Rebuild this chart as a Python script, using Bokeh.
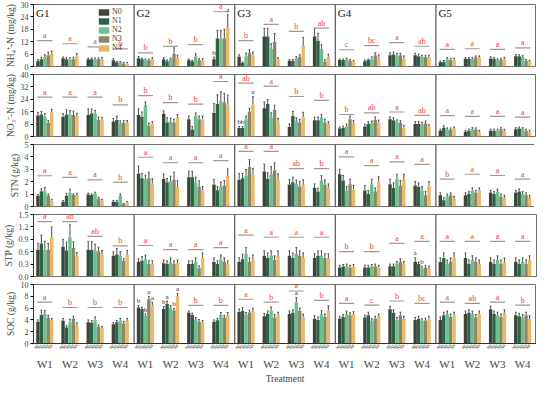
from bokeh.plotting import figure
from bokeh.models import (FixedTicker, Span, Legend, LegendItem, LinearAxis,
                          Range1d, CustomJSTickFormatter)
from bokeh.layouts import column
from bokeh.embed import file_html
from bokeh.resources import INLINE
from bokeh.core.properties import value

groups = ["G1", "G2", "G3", "G4", "G5"]
treatments = ["W1", "W2", "W3", "W4"]
levels = ["N0", "N1", "N2", "N3", "N4"]
colors = ["#3c4638", "#2f6049", "#6cc08b", "#8a8767", "#e8b96a"]

# ---- NH4+-N (mg/kg) : [G][W][N]
nh4_mean = [
    [[2.5, 3.5, 4.5, 5.5, 6.0], [4.0, 3.5, 3.5, 3.5, 5.0], [3.5, 3.5, 3.5, 3.5, 3.5], [3.0, 2.0, 2.0, 1.5, 1.5]],
    [[4.0, 3.5, 3.0, 3.0, 3.5], [3.5, 2.5, 3.5, 6.0, 4.5], [3.0, 2.5, 5.0, 3.0, 3.0], [3.5, 13.5, 13.5, 13.5, 19.0]],
    [[4.7, 1.7, 5.0, 6.6, 5.5], [14.5, 14.5, 8.5, 12.0, 3.5], [2.8, 2.8, 4.0, 4.7, 10.0], [14.5, 12.5, 8.5, 2.3, 4.7]],
    [[3.1, 3.1, 3.5, 2.8, 2.4], [2.6, 3.1, 3.8, 5.4, 4.6], [5.4, 5.8, 5.3, 5.4, 3.9], [5.4, 5.0, 4.6, 4.6, 4.6]],
    [[2.0, 2.3, 3.5, 3.2, 3.2], [3.7, 3.7, 3.6, 4.3, 4.3], [3.9, 3.7, 3.1, 3.4, 3.7], [4.9, 4.9, 4.6, 2.8, 2.4]],
]
nh4_err = [
    [[0.8, 1.0, 1.2, 1.5, 1.5], [0.6, 0.8, 0.8, 1.0, 1.2], [0.6, 0.6, 0.5, 0.6, 0.8], [0.8, 0.4, 0.4, 0.4, 0.5]],
    [[0.8, 0.6, 0.6, 0.6, 0.8], [0.8, 0.6, 0.6, 3.0, 1.0], [0.6, 0.5, 1.2, 0.8, 0.8], [1.0, 4.0, 4.0, 4.5, 6.0]],
    [[1.0, 0.5, 1.5, 1.5, 1.5], [4.0, 4.0, 2.5, 4.0, 0.8], [0.5, 0.6, 0.8, 1.0, 4.0], [4.0, 3.5, 2.0, 1.0, 1.2]],
    [[0.5, 0.5, 0.5, 0.5, 0.5], [0.5, 0.5, 0.8, 1.2, 1.0], [1.2, 1.2, 1.0, 1.0, 1.2], [1.0, 1.0, 0.8, 0.8, 0.8]],
    [[0.6, 0.6, 0.8, 0.8, 0.8], [0.6, 0.6, 0.6, 0.8, 0.8], [0.8, 0.6, 0.6, 0.6, 0.8], [0.8, 0.8, 0.8, 0.6, 0.6]],
]
nh4_letters = [["a", "a", "a", "b"], ["b", "b", "b", "a"], ["b", "a", "b", "ab"], ["c", "bc", "a", "ab"], ["a", "a", "a", "a"]]
nh4_letter_y = [[12.5, 11, 9.5, 8.5], [6.6, 9.7, 10.6, 26.5], [12.5, 20.4, 17, 18.6], [8.1, 10.1, 11.6, 9.8], [8.3, 8.6, 8.3, 9.0]]
nh4_ticks = [0, 6, 12, 18, 24, 30]

# ---- NO3--N (mg/kg)
no3_mean = [
    [[13.6, 14.2, 12.8, 8.8, 15.5], [12.8, 14.2, 14.2, 13.8, 13.0], [13.8, 14.8, 14.8, 10.6, 10.8], [9.6, 10.6, 8.6, 8.8, 8.8]],
    [[13.8, 12.8, 20.3, 7.1, 8.1], [14.6, 9.1, 9.7, 9.1, 12.6], [11.2, 4.5, 13.2, 11.2, 11.2], [15.2, 20.9, 22.9, 21.9, 20.7]],
    [[5.5, 5.5, 11.2, 16.2, 20.7], [18.3, 20.9, 12.2, 17.2, 9.7], [6.1, 13.2, 10.1, 9.1, 12.6], [10.5, 10.5, 12.2, 9.1, 8.1]],
    [[5.1, 5.7, 6.5, 11.2, 8.7], [6.5, 8.1, 8.5, 10.6, 9.1], [11.2, 10.5, 9.7, 8.7, 5.7], [8.1, 8.1, 7.7, 8.5, 6.5]],
    [[3.7, 5.7, 4.5, 4.5, 5.1], [3.0, 3.7, 4.7, 4.5, 3.0], [3.7, 3.7, 3.7, 4.7, 3.7], [4.7, 5.1, 4.7, 3.7, 3.0]],
]
no3_err = [
    [[2.0, 2.0, 2.0, 1.5, 2.0], [2.0, 3.0, 2.5, 2.5, 2.0], [4.0, 3.0, 2.0, 2.0, 1.5], [2.0, 2.5, 1.5, 1.5, 1.5]],
    [[4.0, 3.0, 2.0, 1.5, 1.5], [2.0, 3.0, 2.0, 2.0, 1.5], [2.0, 2.0, 2.0, 2.0, 2.0], [6.0, 6.0, 6.0, 6.0, 6.0]],
    [[1.0, 1.0, 2.0, 2.0, 5.0], [4.0, 3.0, 3.0, 3.0, 2.0], [2.0, 3.0, 2.0, 2.0, 3.0], [2.0, 2.0, 2.0, 2.0, 1.5]],
    [[1.0, 1.0, 1.5, 2.0, 1.5], [1.5, 1.5, 1.5, 2.0, 1.5], [1.5, 1.5, 1.0, 1.5, 1.5], [1.5, 1.5, 1.5, 1.5, 1.0]],
    [[1.0, 1.2, 1.0, 1.0, 1.0], [1.0, 1.0, 1.0, 1.0, 1.0], [1.0, 1.0, 1.0, 1.0, 1.0], [1.0, 1.0, 1.0, 1.0, 1.0]],
]
no3_letters = [["a", "a", "a", "b"], ["b", "b", "b", "a"], ["ab", "a", "b", "b"], ["b", "ab", "a", "ab"], ["a", "a", "a", "a"]]
no3_letter_y = [[25.4, 25.4, 25.4, 20.4], [26.4, 21.9, 20.9, 35.5], [34.5, 32.5, 25.8, 23.3], [14.2, 15.2, 15.8, 13.6], [13.5, 13.0, 13.0, 12.5]]
no3_ticks = [0, 8, 16, 24, 32, 40]

# ---- STN (g/kg)
stn_mean = [
    [[0.86, 1.23, 1.23, 0.86, 0.47], [0.39, 0.86, 1.1, 0.92, 0.92], [0.97, 0.92, 1.05, 0.65, 0.47], [0.39, 0.39, 0.86, 0.21, 0.31]],
    [[2.67, 2.27, 2.22, 2.27, 1.83], [2.22, 1.96, 2.04, 2.17, 1.57], [2.35, 2.35, 1.96, 1.57, 1.31], [1.78, 1.31, 1.57, 1.7, 2.43]],
    [[2.14, 2.27, 2.48, 3.19, 2.56], [2.82, 2.22, 2.61, 2.93, 2.14], [1.78, 1.96, 1.83, 1.62, 1.75], [1.52, 1.18, 2.09, 1.75, 1.52]],
    [[2.6, 2.1, 1.3, 1.8, 1.4], [1.3, 1.0, 1.8, 1.2, 2.0], [1.8, 1.5, 2.2, 1.7, 2.2], [1.7, 1.6, 1.3, 0.9, 1.7]],
    [[0.9, 0.5, 0.8, 0.9, 0.6], [0.9, 1.0, 1.3, 1.1, 1.3], [1.1, 1.0, 1.2, 0.8, 0.7], [1.1, 1.2, 1.0, 0.9, 0.7]],
]
stn_err = [
    [[0.1, 0.2, 0.3, 0.15, 0.1], [0.1, 0.2, 0.3, 0.1, 0.15], [0.1, 0.1, 0.1, 0.1, 0.1], [0.1, 0.1, 0.15, 0.05, 0.08]],
    [[0.6, 0.4, 0.3, 0.5, 0.4], [0.4, 0.3, 0.4, 0.6, 0.5], [0.5, 0.5, 0.4, 0.5, 0.3], [0.4, 0.3, 0.4, 0.4, 0.6]],
    [[0.5, 0.4, 0.5, 0.6, 0.5], [0.6, 0.5, 0.6, 0.6, 0.5], [0.4, 0.4, 0.3, 0.4, 0.4], [0.3, 0.3, 0.4, 0.4, 0.3]],
    [[0.4, 0.4, 0.3, 0.4, 0.3], [0.4, 0.3, 0.4, 0.3, 0.4], [0.4, 0.4, 0.4, 0.4, 0.4], [0.3, 0.3, 0.3, 0.3, 0.3]],
    [[0.2, 0.2, 0.2, 0.2, 0.2], [0.2, 0.2, 0.2, 0.2, 0.2], [0.2, 0.2, 0.2, 0.2, 0.2], [0.2, 0.2, 0.2, 0.2, 0.2]],
]
stn_letters = [["a", "a", "a", "b"], ["a", "a", "a", "a"], ["a", "a", "ab", "b"], ["a", "a", "a", "a"], ["b", "a", "a", "a"]]
stn_letter_y = [[2.48, 2.35, 2.14, 1.96], [3.97, 3.53, 3.53, 3.7], [4.45, 4.45, 3.06, 3.06], [4.0, 3.3, 3.6, 3.4], [2.2, 2.6, 2.5, 2.2]]
stn_ticks = [0, 1, 2, 3, 4, 5]

# ---- STP (g/kg)
stp_mean = [
    [[0.65, 0.8, 0.65, 0.65, 0.95], [0.72, 0.63, 0.95, 0.69, 0.5], [0.65, 0.65, 0.63, 0.61, 0.53], [0.5, 0.53, 0.5, 0.38, 0.53]],
    [[0.35, 0.38, 0.42, 0.3, 0.3], [0.32, 0.3, 0.35, 0.3, 0.32], [0.3, 0.3, 0.35, 0.2, 0.45], [0.35, 0.3, 0.42, 0.35, 0.3]],
    [[0.35, 0.42, 0.55, 0.35, 0.4], [0.5, 0.45, 0.5, 0.4, 0.5], [0.5, 0.45, 0.55, 0.5, 0.45], [0.45, 0.5, 0.5, 0.45, 0.45]],
    [[0.22, 0.24, 0.25, 0.22, 0.24], [0.22, 0.22, 0.24, 0.25, 0.22], [0.25, 0.25, 0.3, 0.35, 0.3], [0.35, 0.3, 0.2, 0.22, 0.2]],
    [[0.35, 0.45, 0.3, 0.35, 0.45], [0.45, 0.3, 0.4, 0.35, 0.3], [0.35, 0.3, 0.4, 0.3, 0.35], [0.35, 0.3, 0.35, 0.3, 0.4]],
]
stp_err = [
    [[0.15, 0.2, 0.2, 0.15, 0.25], [0.18, 0.2, 0.3, 0.15, 0.08], [0.2, 0.2, 0.15, 0.1, 0.1], [0.1, 0.15, 0.1, 0.05, 0.1]],
    [[0.08, 0.1, 0.1, 0.08, 0.08], [0.08, 0.08, 0.1, 0.08, 0.08], [0.08, 0.08, 0.1, 0.06, 0.12], [0.1, 0.08, 0.1, 0.1, 0.08]],
    [[0.1, 0.12, 0.15, 0.1, 0.12], [0.12, 0.12, 0.12, 0.1, 0.12], [0.12, 0.12, 0.15, 0.12, 0.12], [0.1, 0.12, 0.12, 0.1, 0.1]],
    [[0.05, 0.05, 0.05, 0.05, 0.05], [0.05, 0.05, 0.05, 0.05, 0.05], [0.05, 0.05, 0.06, 0.08, 0.06], [0.1, 0.05, 0.05, 0.05, 0.05]],
    [[0.1, 0.12, 0.1, 0.1, 0.12], [0.12, 0.1, 0.1, 0.1, 0.1], [0.1, 0.1, 0.1, 0.1, 0.1], [0.1, 0.1, 0.1, 0.1, 0.1]],
]
stp_letters = [["a", "ab", "ab", "b"], ["a", "a", "a", "a"], ["a", "a", "a", "a"], ["b", "b", "a", "a"], ["a", "a", "a", "a"]]
stp_letter_y = [[1.33, 1.33, 0.97, 0.74], [0.75, 0.65, 0.65, 0.7], [1.0, 0.95, 0.95, 0.95], [0.6, 0.6, 0.8, 0.85], [0.85, 0.85, 0.85, 0.85]]
stp_ticks = [0.0, 0.3, 0.6, 0.9, 1.2, 1.5]

# ---- SOC (g/kg)
soc_mean = [
    [[3.7, 4.85, 5.0, 4.35, 3.95], [3.85, 2.7, 3.6, 4.25, 3.2], [3.6, 3.5, 4.0, 2.85, 2.6], [3.25, 3.6, 3.85, 3.45, 3.85]],
    [[6.1, 5.85, 4.7, 7.5, 6.5], [5.85, 6.7, 6.1, 5.6, 8.0], [5.2, 4.85, 4.1, 3.75, 3.6], [3.7, 3.95, 4.85, 4.35, 4.75]],
    [[5.35, 5.5, 4.85, 5.25, 5.45], [4.6, 5.0, 5.6, 4.4, 4.8], [5.0, 5.2, 7.0, 5.5, 4.5], [4.2, 4.0, 5.0, 4.5, 5.6]],
    [[4.2, 4.5, 5.0, 4.8, 5.0], [4.4, 4.8, 3.8, 4.2, 4.6], [5.8, 5.2, 4.0, 4.8, 4.2], [4.0, 4.2, 3.8, 3.9, 4.2]],
    [[4.0, 4.8, 5.0, 4.5, 4.8], [5.0, 5.2, 5.0, 4.4, 5.0], [5.8, 5.0, 4.8, 4.5, 5.2], [4.8, 4.6, 4.4, 4.8, 4.2]],
]
soc_err = [
    [[0.3, 0.8, 0.6, 0.4, 0.3], [0.4, 0.3, 0.5, 0.4, 0.3], [0.4, 0.4, 0.5, 0.3, 0.3], [0.3, 0.3, 0.4, 0.3, 0.4]],
    [[0.3, 0.3, 0.3, 0.5, 0.5], [0.4, 0.5, 0.3, 0.3, 0.5], [0.3, 0.3, 0.3, 0.3, 0.3], [0.3, 0.3, 0.4, 0.4, 0.5]],
    [[0.5, 0.6, 0.4, 0.4, 0.5], [0.5, 0.5, 0.6, 0.5, 0.5], [0.5, 0.5, 0.8, 0.5, 0.5], [0.5, 0.5, 0.6, 0.5, 0.8]],
    [[0.4, 0.4, 0.5, 0.4, 0.4], [0.4, 0.5, 0.4, 0.4, 0.4], [0.5, 0.5, 0.4, 0.5, 0.4], [0.4, 0.4, 0.4, 0.4, 0.4]],
    [[0.5, 0.5, 0.5, 0.5, 0.5], [0.5, 0.5, 0.5, 0.5, 0.5], [0.5, 0.5, 0.5, 0.5, 0.5], [0.5, 0.5, 0.5, 0.5, 0.5]],
]
soc_letters = [["a", "b", "b", "b"], ["", "", "b", "b"], ["a", "b", "a", "b"], ["a", "c", "b", "bc"], ["a", "ab", "a", "b"]]
soc_letter_y = [[7.0, 6.1, 6.1, 6.1], [0, 0, 6.45, 6.45], [7.5, 7.0, 8.9, 7.3], [6.8, 6.5, 7.2, 6.8], [7.0, 6.8, 7.0, 6.5]]
soc_ticks = [0, 2, 4, 6, 8, 10]

# black per-bar letters: (row, group, treatment, level, text)
bar_letters = [
    (0, 1, 3, 0, "b"), (0, 1, 3, 4, "a"),
    (1, 2, 0, 0, "b"), (1, 2, 0, 1, "b"), (1, 2, 0, 4, "a"),
    (3, 3, 3, 0, "a"), (3, 3, 3, 2, "b"),
    (4, 1, 0, 0, "b"), (4, 1, 0, 2, "b"), (4, 1, 0, 3, "a"), (4, 1, 0, 4, "a"),
    (4, 1, 1, 0, "b"), (4, 1, 1, 1, "a"), (4, 1, 1, 3, "b"), (4, 1, 1, 4, "a"),
    (4, 2, 2, 2, "a"),
]

row_labels = ["NH\u2084\u207a-N (mg/kg)", "NO\u2083\u207b-N (mg/kg)", "STN (g/kg)", "STP (g/kg)", "SOC (g/kg)"]

SERIF = "Liberation Serif"
rows = [
    (nh4_mean, nh4_err, nh4_letters, nh4_letter_y, nh4_ticks),
    (no3_mean, no3_err, no3_letters, no3_letter_y, no3_ticks),
    (stn_mean, stn_err, stn_letters, stn_letter_y, stn_ticks),
    (stp_mean, stp_err, stp_letters, stp_letter_y, stp_ticks),
    (soc_mean, soc_err, soc_letters, soc_letter_y, soc_ticks),
]

BW = 0.135
FRAME_W = 503


def bx(g, w, n):
    return g * 4 + w + 0.45 + (n - 2) * 0.137


figs = []
for r, (mean, err, lets, lety, ticks) in enumerate(rows):
    last = r == 4
    p = figure(frame_width=FRAME_W, frame_height=59 if last else 62,
               x_range=Range1d(0, 20), y_range=Range1d(ticks[0], ticks[-1]),
               output_backend="svg", toolbar_location=None,
               min_border_left=29, min_border_right=2, min_border_top=4,
               min_border_bottom=0 if last else 4)
    p.grid.visible = False
    p.outline_line_color = "#6e6e6e"
    p.outline_line_width = 1

    rends = []
    ex, ey0, ey1 = [], [], []
    for n in range(5):
        xs, tops = [], []
        for g in range(5):
            for w in range(4):
                x = bx(g, w, n)
                xs.append(x)
                tops.append(mean[g][w][n])
                ex.append(x)
                ey0.append(mean[g][w][n])
                ey1.append(mean[g][w][n] + err[g][w][n])
        rends.append(p.vbar(x=xs, top=tops, bottom=0, width=BW,
                            fill_color=colors[n], line_color=None))
    p.segment(x0=ex, y0=ey0, x1=ex, y1=ey1, line_color="#4d4d4d", line_width=1)
    p.segment(x0=[x - 0.035 for x in ex], y0=ey1, x1=[x + 0.035 for x in ex], y1=ey1,
              line_color="#4d4d4d", line_width=1)

    # significance letters
    lx0, lx1, ly, tx, tt = [], [], [], [], []
    for g in range(5):
        for w in range(4):
            if lets[g][w]:
                c = g * 4 + w + 0.45
                lx0.append(c - 0.3)
                lx1.append(c + 0.3)
                ly.append(lety[g][w])
                tx.append(c)
                tt.append(lets[g][w])
    p.segment(x0=lx0, y0=ly, x1=lx1, y1=ly, line_color="#9a9a9a", line_width=1.2)
    p.text(x=tx, y=ly, text=tt, text_color="#f03c3c", text_font=value(SERIF),
           text_font_size="8px", text_align="center", text_baseline="bottom", y_offset=-0.5)

    bl = [b for b in bar_letters if b[0] == r]
    if bl:
        p.text(x=[bx(b[1], b[2], b[3]) for b in bl],
               y=[mean[b[1]][b[2]][b[3]] + err[b[1]][b[2]][b[3]] for b in bl],
               text=[b[4] for b in bl], text_color="#222222", text_font=value(SERIF),
               text_font_size="7px", text_align="center", text_baseline="bottom", y_offset=-0.5)

    for k in range(1, 5):
        p.add_layout(Span(location=4 * k, dimension="height", line_color="#555555", line_width=1.2))

    if r == 0:
        p.text(x=[g * 4 + 0.1 for g in range(5)], y=[ticks[-1] * 0.965] * 5, text=groups,
               text_font=value(SERIF), text_font_size="11px", text_baseline="top",
               text_color="#111111")
        leg = Legend(items=[LegendItem(label=levels[n], renderers=[rends[n]]) for n in range(5)],
                     location=(64, 14), padding=1, spacing=0, margin=0,
                     glyph_width=13, glyph_height=8, label_height=9,
                     label_text_font=SERIF, label_text_font_size="8px",
                     label_standoff=2, border_line_color=None,
                     background_fill_alpha=0)
        p.add_layout(leg)

    ya = p.yaxis[0]
    ya.ticker = FixedTicker(ticks=ticks)
    if r == 3:
        ya.formatter = CustomJSTickFormatter(code="return tick.toFixed(1);")
    ya.axis_label = row_labels[r]
    ya.axis_label_text_font = SERIF
    ya.axis_label_text_font_size = "9.5px"
    ya.axis_label_text_font_style = "normal"
    ya.axis_label_standoff = 2
    ya.major_label_text_font = SERIF
    ya.major_label_text_font_size = "8px"
    ya.major_label_standoff = 2
    ya.minor_tick_line_color = None
    ya.major_tick_in = 0
    ya.major_tick_out = 3
    ya.axis_line_color = "#333333"

    if not last:
        p.xaxis.visible = False
    else:
        xa = p.xaxis[0]
        xa.ticker = FixedTicker(ticks=sorted(bx(g, w, n) for g in range(5) for w in range(4) for n in range(5)))
        xa.formatter = CustomJSTickFormatter(code="return ['N0','N1','N2','N3','N4'][index % 5];")
        xa.major_label_orientation = 1.0
        xa.major_label_text_font_size = "4px"
        xa.major_label_standoff = 1
        xa.major_tick_out = 0
        xa.major_tick_in = 0
        xa.major_tick_line_color = None
        xa.minor_tick_line_color = None
        xa.axis_line_color = "#333333"
        wa = LinearAxis(ticker=FixedTicker(ticks=[g * 4 + w + 0.45 for g in range(5) for w in range(4)]),
                        formatter=CustomJSTickFormatter(code="return ['W1','W2','W3','W4'][index % 4];"),
                        axis_line_color=None, major_tick_line_color=None, minor_tick_line_color=None,
                        major_tick_out=0, major_tick_in=0,
                        major_label_text_font=SERIF, major_label_text_font_size="11px",
                        major_label_standoff=3,
                        axis_label="Treatment", axis_label_text_font=SERIF,
                        axis_label_text_font_size="9.5px", axis_label_text_font_style="normal",
                        axis_label_standoff=1)
        p.add_layout(wa, "below")
    figs.append(p)

layout = column(*figs, spacing=0)
open("out.html", "w").write(file_html(layout, INLINE))
